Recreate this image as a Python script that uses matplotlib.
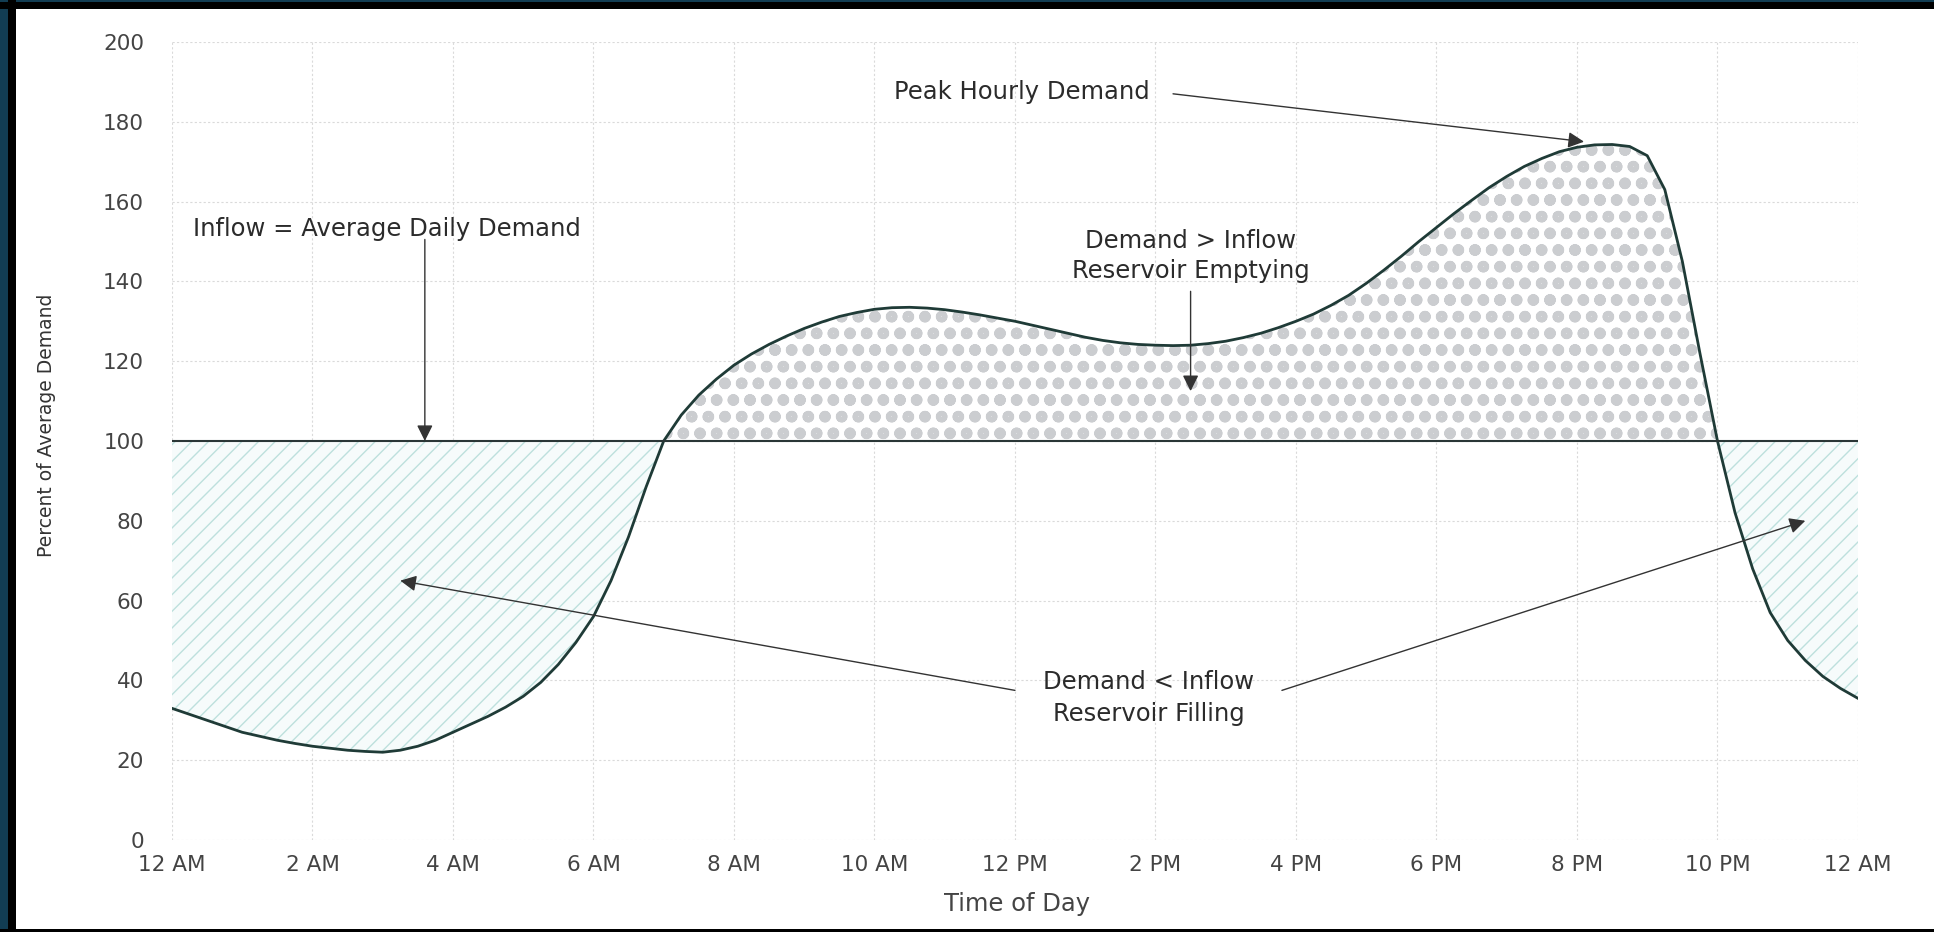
import numpy as np
import matplotlib
matplotlib.use("Agg")
import matplotlib.pyplot as plt
from matplotlib.patches import Rectangle

# quarter-hourly demand, percent of average daily demand
hours = np.arange(0, 24.25, 0.25)
demand = [33, 31.5, 30, 28.5, 27, 26, 25, 24.2, 23.5, 23, 22.5, 22.2,
          22, 22.5, 23.5, 25, 27, 29, 31, 33.3, 36, 39.5, 44, 49.5,
          56, 65, 76, 88.5, 100, 106.5, 111.5, 115.5, 119, 121.8, 124.2, 126.3,
          128.2, 129.8, 131.2, 132.2, 133, 133.4, 133.5, 133.3, 132.9, 132.3, 131.6, 130.8,
          130, 129, 128, 127, 126, 125.2, 124.6, 124.2, 124, 123.9, 124, 124.4,
          125, 125.9, 127, 128.4, 130, 131.8, 134, 136.5, 139.5, 142.8, 146.3, 150,
          153.5, 157, 160.3, 163.5, 166.3, 168.8, 170.8, 172.5, 173.6, 174.2, 174.3, 173.8,
          171.5, 163, 145, 122, 100, 82, 68, 57, 50, 45, 41, 38, 35.5]
inflow = 100

tick_hours = list(range(0, 25, 2))
tick_labels = ["12 AM", "2 AM", "4 AM", "6 AM", "8 AM", "10 AM", "12 PM",
               "2 PM", "4 PM", "6 PM", "8 PM", "10 PM", "12 AM"]
y_ticks = list(range(0, 201, 20))

FONT = ["DejaVu Sans"]
TXT = "#2b2b2b"
FS = 17.5

fig = plt.figure(figsize=(19.34, 9.32), dpi=100)
fig.patch.set_facecolor("white")
ax = fig.add_axes([0.0889, 0.0987, 0.8718, 0.8563])

demand = np.array(demand)

# reservoir emptying (demand above inflow) - grey dots
plt.rcParams["hatch.linewidth"] = 3.6
above = ax.fill_between(hours, inflow, demand, where=demand >= inflow, interpolate=True,
                        facecolor="white", edgecolor="#cbcdd0", hatch="o", linewidth=0)
if hasattr(above, "set_hatch_linewidth"):
    above.set_hatch_linewidth(3.6)

# reservoir filling (demand below inflow) - pale teal dashes
plt.rcParams["hatch.linewidth"] = 1.0
below = ax.fill_between(hours, demand, inflow, where=demand <= inflow, interpolate=True,
                        facecolor="#f6fbfb", edgecolor="#bde0dd", hatch="//", linewidth=0)
if hasattr(below, "set_hatch_linewidth"):
    below.set_hatch_linewidth(1.0)

ax.plot(hours, demand, color="#1f3b37", lw=2.0, zorder=4)
ax.axhline(inflow, color="#2a3636", lw=1.5, zorder=4)

ax.set_xlim(0, 24)
ax.set_ylim(0, 200)
ax.set_xticks(tick_hours)
ax.set_xticklabels(tick_labels)
ax.set_yticks(y_ticks)
for s in ax.spines.values():
    s.set_visible(False)
ax.grid(True, color="#dadada", linestyle=(0, (2, 2)), lw=0.8)
ax.set_axisbelow(True)
ax.tick_params(length=0, labelsize=15.5, labelcolor="#444444")
ax.tick_params(axis="y", pad=20)
ax.tick_params(axis="x", pad=11)
for lab in ax.get_xticklabels() + ax.get_yticklabels():
    lab.set_family(FONT)

arrow = dict(arrowstyle="-|>", color="#333333", lw=1.0, mutation_scale=24,
             shrinkA=0, shrinkB=0)

ax.text(0.3, 153, "Inflow = Average Daily Demand", fontsize=FS, family=FONT,
        color=TXT, ha="left", va="center")
ax.annotate("", xy=(3.6, 100), xytext=(3.6, 150.5), arrowprops=arrow, zorder=6)

ax.text(14.5, 150, "Demand > Inflow", fontsize=FS, family=FONT, color=TXT,
        ha="center", va="center")
ax.text(14.5, 142.5, "Reservoir Emptying", fontsize=FS, family=FONT, color=TXT,
        ha="center", va="center")
ax.annotate("", xy=(14.5, 112.5), xytext=(14.5, 137.5), arrowprops=arrow, zorder=6)

ax.text(12.1, 187.5, "Peak Hourly Demand", fontsize=FS, family=FONT, color=TXT,
        ha="center", va="center")
ax.annotate("", xy=(20.1, 175), xytext=(14.25, 187), arrowprops=arrow, zorder=6)

ax.text(13.9, 39.5, "Demand < Inflow", fontsize=FS, family=FONT, color=TXT,
        ha="center", va="center")
ax.text(13.9, 31.5, "Reservoir Filling", fontsize=FS, family=FONT, color=TXT,
        ha="center", va="center")
ax.annotate("", xy=(3.25, 65), xytext=(12.0, 37.5), arrowprops=arrow, zorder=6)
ax.annotate("", xy=(23.25, 80), xytext=(15.8, 37.5), arrowprops=arrow, zorder=6)

fig.text(47 / 1934, 1 - 425 / 932, "Percent of Average Demand", rotation=90,
         fontsize=13.5, family=["Liberation Sans Narrow", "DejaVu Sans"],
         color="#333333", ha="center", va="center")
fig.text(1017 / 1934, 1 - 904 / 932, "Time of Day", fontsize=17.5, family=FONT,
         color="#444444", ha="center", va="center")

# scanned page frame
W, H = 1934, 932
for x, y, w, h, c in [(0, 0, 8, H, "#123d53"), (0, H - 2, W, 2, "#123d53"),
                      (8, 0, 8, H, "black"), (0, H - 9, W, 7, "black"),
                      (0, 0, W, 3, "black")]:
    fig.add_artist(Rectangle((x / W, y / H), w / W, h / H, transform=fig.transFigure,
                             facecolor=c, edgecolor="none", zorder=10))

fig.savefig("out.png", dpi=100)
